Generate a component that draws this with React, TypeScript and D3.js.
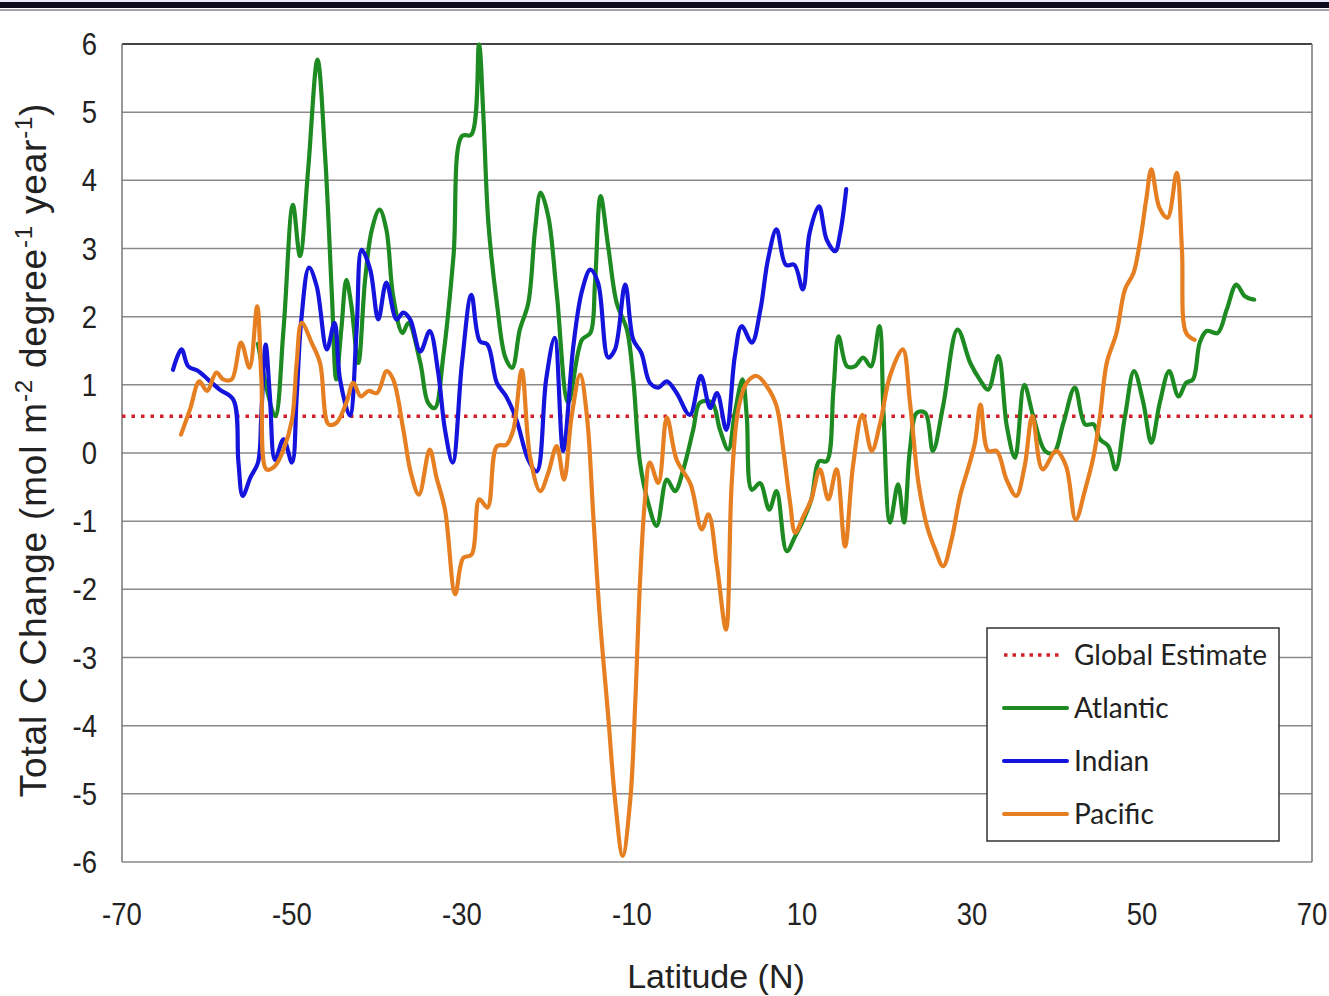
import React, { useEffect, useRef } from 'react';
import * as d3 from 'd3';

// values (latitude, total C change)
const atlanticLat = [-54, -52, -51, -49.9, -49.06, -48.1, -47, -46.1, -45.3, -44.8, -44.2, -43.6, -43, -42.2, -41.4, -40.6, -39.7, -38.9, -38.1, -37, -36.3, -34.9, -34, -33.2, -32.2, -31, -30, -28.9, -28, -27.5, -26.9, -25.9, -24.9, -24.1, -23.2, -22.2, -21.4, -20.75, -19.85, -18.86, -17.5, -15.9, -14.9, -14.35, -13.7, -12.8, -11.8, -10.6, -9.85, -9.06, -8.1, -7.1, -5.9, -4.94, -3.96, -2.8, -2, -0.6, 0.35, 1.33, 2.1, 3, 3.5, 4.1, 5.06, 6.15, 7, 8.2, 9.2, 10.16, 11.1, 12.04, 12.9, 13.7, 14.3, 15.3, 16.2, 17.2, 18.1, 19.1, 19.6, 20.35, 21.3, 22, 22.7, 23.5, 24.5, 25.4, 26.6, 28.3, 29.8, 30.9, 31.9, 33.1, 34.1, 35.06, 36.15, 37.2, 38.6, 39.6, 40.75, 42.1, 43.3, 44.3, 45.06, 46.04, 46.9, 48, 49.06, 50.15, 51.1, 52.1, 53.2, 54.3, 55.2, 56, 56.8, 57.6, 58.9, 59.96, 61.1, 62.1, 63.2];
const atlanticVal = [1.6, 0.54, 1.81, 3.64, 2.89, 4.16, 5.77, 4.35, 2.3, 1.08, 1.81, 2.54, 2.15, 1.32, 2.54, 3.28, 3.57, 3.28, 2.3, 1.76, 1.91, 1.32, 0.74, 0.66, 1.42, 2.89, 4.65, 4.67, 5.99, 4.99, 3.38, 2.2, 1.4, 1.25, 1.81, 2.2, 3.28, 3.82, 3.47, 2.35, 0.74, 1.66, 1.76, 2.5, 3.77, 3.03, 2.2, 1.81, 1.08, -0.14, -0.73, -1.07, -0.39, -0.56, -0.24, 0.34, 0.74, 0.74, 0.34, 0.05, 0.59, 1.08, 0.54, -0.54, -0.44, -0.83, -0.56, -1.44, -1.22, -0.98, -0.68, -0.12, -0.12, 0.93, 1.71, 1.27, 1.27, 1.4, 1.27, 1.86, 0.54, -1.02, -0.46, -1.02, 0.05, 0.59, 0.59, 0.03, 0.69, 1.81, 1.32, 1.08, 0.93, 1.42, 0.39, -0.07, 1.0, 0.54, 0.03, 0.0, 0.44, 0.96, 0.42, 0.42, 0.2, 0.1, -0.24, 0.54, 1.2, 0.74, 0.15, 0.74, 1.2, 0.83, 1.03, 1.08, 1.62, 1.79, 1.76, 2.1, 2.47, 2.3, 2.25];

const indianLat = [-64, -63, -62.2, -61, -59.9, -58.5, -56.9, -56.3, -55.8, -54.9, -54, -53.6, -53.1, -52.6, -52, -51, -50, -49.45, -48.9, -48, -47.1, -45.9, -45, -44.35, -43.2, -42.4, -41.8, -40.8, -39.85, -38.9, -37.7, -36.9, -36.1, -34.9, -33.8, -32.8, -32, -31.1, -30, -28.9, -27.9, -27, -25.9, -24.8, -23.6, -22.2, -21.2, -20.1, -19.1, -18.1, -16.9, -15.9, -14.9, -14, -12.8, -12, -10.8, -9.85, -8.9, -7.9, -6.9, -5.9, -4.75, -3.2, -1.9, -0.8, 0, 1.1, 2.1, 2.9, 4.1, 5.1, 6, 7, 8.1, 9.1, 10.1, 10.9, 12, 12.9, 13.9, 14.5, 15.2];
const indianVal = [1.22, 1.52, 1.27, 1.2, 1.08, 0.93, 0.78, -0.14, -0.63, -0.36, -0.14, 0.59, 1.59, 0.83, -0.1, 0.2, -0.14, 0.83, 1.96, 2.72, 2.45, 1.52, 1.91, 1.08, 0.55, 1.81, 2.98, 2.69, 1.96, 2.5, 1.96, 2.06, 1.96, 1.49, 1.79, 1.18, 0.34, -0.14, 1.32, 2.32, 1.64, 1.59, 1.03, 0.83, 0.49, -0.1, -0.27, 1.08, 1.69, 0.03, 1.57, 2.37, 2.69, 2.5, 1.4, 1.52, 2.47, 1.66, 1.47, 1.03, 0.96, 1.05, 0.88, 0.56, 1.13, 0.66, 0.88, 0.34, 1.42, 1.86, 1.62, 2.1, 2.84, 3.28, 2.76, 2.76, 2.4, 3.23, 3.62, 3.13, 2.96, 3.23, 3.87];

const pacificLat = [-63.06, -62, -60.9, -60, -58.9, -58.1, -57.1, -56, -55, -54.1, -53.6, -53, -52, -51, -50, -49.45, -48.86, -47.7, -46.7, -45.7, -44.8, -43.6, -42.8, -41.9, -41, -40, -38.86, -38.1, -36.9, -36, -35.06, -33.8, -33, -32, -30.8, -29.85, -28.86, -27.96, -27, -25.9, -24.8, -23.96, -22.98, -22, -20.8, -19.85, -18.86, -18, -17.1, -16.1, -15.3, -14.55, -13.8, -12.8, -12, -11.1, -10.2, -9.6, -9.06, -8.47, -7.9, -6.9, -5.9, -4.75, -3.1, -1.8, -1, 0, 1.06, 1.73, 2.5, 3.5, 4.67, 5.85, 7, 7.8, 8.6, 9.2, 10.16, 11.1, 12.1, 13.1, 14.06, 15.06, 16, 17.1, 18.2, 19.2, 20.35, 21.85, 22.7, 23.7, 24.7, 25.65, 26.6, 27.6, 28.6, 29.6, 30.35, 31, 31.9, 32.9, 34.06, 35.2, 36.2, 37.1, 38.3, 39.9, 41.06, 42.2, 43.3, 44.3, 45.06, 45.85, 47, 48, 49, 49.8, 50.5, 51.1, 52.04, 53, 54.08, 54.7, 55.2, 56.2];
const pacificVal = [0.27, 0.64, 1.05, 0.91, 1.18, 1.08, 1.08, 1.62, 1.25, 2.15, 1.08, -0.24, -0.19, 0.05, 0.49, 1.32, 1.91, 1.62, 1.32, 0.42, 0.44, 0.74, 1.03, 0.83, 0.91, 0.88, 1.2, 1.08, 0.34, -0.3, -0.61, 0.05, -0.36, -0.83, -2.07, -1.54, -1.49, -0.68, -0.8, 0.1, 0.12, 0.34, 1.22, -0.05, -0.56, -0.29, 0.1, -0.39, 0.54, 1.15, 0.54, -0.93, -2.39, -3.86, -5.08, -5.91, -5.08, -3.61, -1.9, -0.68, -0.14, -0.44, 0.52, -0.1, -0.46, -1.12, -0.9, -1.66, -2.59, -0.44, 0.64, 1.03, 1.13, 0.98, 0.69, 0.05, -0.73, -1.17, -0.93, -0.68, -0.24, -0.68, -0.24, -1.37, -0.19, 0.56, 0.03, 0.44, 1.13, 1.52, 0.74, -0.44, -1.07, -1.41, -1.66, -1.27, -0.63, -0.2, 0.15, 0.71, 0.03, 0.03, -0.39, -0.63, -0.19, 0.54, -0.24, 0.03, -0.19, -0.98, -0.54, -0.05, 0.54, 1.32, 1.76, 2.4, 2.64, 3.13, 3.72, 4.16, 3.6, 3.45, 4.11, 2.98, 1.76, 1.66];

const globalEstimate = 0.54;
const xTicks = [-70, -50, -30, -10, 10, 30, 50, 70];
const yTicks = [6, 5, 4, 3, 2, 1, 0, -1, -2, -3, -4, -5, -6];

const W = 1329;
const H = 996;
const margin = { top: 44, right: 17, bottom: 134, left: 122 };

const series = [
  { name: 'Atlantic', lat: atlanticLat, val: atlanticVal, color: '#1d8a22' },
  { name: 'Indian', lat: indianLat, val: indianVal, color: '#1414dc' },
  { name: 'Pacific', lat: pacificLat, val: pacificVal, color: '#e57f22' },
];

const App = () => {
  const svgRef = useRef(null);

  useEffect(() => {
    const svg = d3.select(svgRef.current);
    svg.selectAll('*').remove();

    const x = d3.scaleLinear().domain([-70, 70]).range([margin.left, W - margin.right]);
    const y = d3.scaleLinear().domain([-6, 6]).range([H - margin.bottom, margin.top]);

    // banner strip at the very top
    svg.append('rect').attr('x', 0).attr('y', 0).attr('width', W).attr('height', 2).attr('fill', '#e9e9f7');
    svg.append('rect').attr('x', 0).attr('y', 2).attr('width', W).attr('height', 6).attr('fill', '#0b0b1e');
    svg.append('rect').attr('x', 0).attr('y', 9).attr('width', W).attr('height', 2).attr('fill', '#a0a0a8');

    // gridlines
    svg.append('g')
      .selectAll('line')
      .data(yTicks)
      .enter().append('line')
      .attr('x1', x(-70)).attr('x2', x(70))
      .attr('y1', d => y(d)).attr('y2', d => y(d))
      .attr('stroke', d => (d === 6 ? '#444' : '#8a8a8a'))
      .attr('stroke-width', d => (d === 6 ? 2 : 1.5));

    // frame
    svg.append('line').attr('x1', x(-70)).attr('x2', x(-70)).attr('y1', y(6)).attr('y2', y(-6))
      .attr('stroke', '#777').attr('stroke-width', 1.5);
    svg.append('line').attr('x1', x(70)).attr('x2', x(70)).attr('y1', y(6)).attr('y2', y(-6))
      .attr('stroke', '#777').attr('stroke-width', 1.5);

    // tick labels (condensed look)
    svg.append('g')
      .selectAll('text')
      .data(yTicks)
      .enter().append('text')
      .attr('transform', d => `translate(97,${y(d) + 11}) scale(0.86,1)`)
      .attr('text-anchor', 'end')
      .style('font-family', '"Liberation Sans", Arial, sans-serif')
      .style('font-size', '32px')
      .attr('fill', '#222')
      .text(d => d);

    svg.append('g')
      .selectAll('text')
      .data(xTicks)
      .enter().append('text')
      .attr('transform', d => `translate(${x(d)},925) scale(0.86,1)`)
      .attr('text-anchor', 'middle')
      .style('font-family', '"Liberation Sans", Arial, sans-serif')
      .style('font-size', '32px')
      .attr('fill', '#222')
      .text(d => d);

    // global estimate dotted line
    svg.append('line')
      .attr('x1', x(-70)).attr('x2', x(70))
      .attr('y1', y(globalEstimate)).attr('y2', y(globalEstimate))
      .attr('stroke', '#d2232c')
      .attr('stroke-width', 3.5)
      .attr('stroke-dasharray', '3.5 6');

    const line = d3.line()
      .x(d => x(d[0]))
      .y(d => y(d[1]))
      .curve(d3.curveCatmullRom.alpha(0.5));

    series.forEach(s => {
      const pts = s.lat.map((l, i) => [l, s.val[i]]);
      svg.append('path')
        .datum(pts)
        .attr('d', line)
        .attr('fill', 'none')
        .attr('stroke', s.color)
        .attr('stroke-width', 4.2)
        .attr('stroke-linejoin', 'round')
        .attr('stroke-linecap', 'round');
    });

    // axis titles
    svg.append('text')
      .attr('x', x(0) - 1)
      .attr('y', 988)
      .attr('text-anchor', 'middle')
      .style('font-family', '"Liberation Sans", Arial, sans-serif')
      .style('font-size', '34px')
      .attr('fill', '#222')
      .text('Latitude (N)');

    const yt = svg.append('text')
      .attr('transform', 'translate(46,450) rotate(-90)')
      .attr('text-anchor', 'middle')
      .style('font-family', '"Liberation Sans", Arial, sans-serif')
      .style('font-size', '37px')
      .style('letter-spacing', '0.8px')
      .attr('fill', '#222');
    yt.append('tspan').text('Total C Change (mol m');
    yt.append('tspan').attr('dy', -14).style('font-size', '24px').text('-2');
    yt.append('tspan').attr('dy', 14).text(' degree');
    yt.append('tspan').attr('dy', -14).style('font-size', '24px').text('-1');
    yt.append('tspan').attr('dy', 14).text(' year');
    yt.append('tspan').attr('dy', -14).style('font-size', '24px').text('-1');
    yt.append('tspan').attr('dy', 14).text(')');

    // legend
    const legend = svg.append('g').attr('transform', 'translate(987,628)');
    legend.append('rect')
      .attr('width', 292).attr('height', 213)
      .attr('fill', '#fff').attr('stroke', '#333').attr('stroke-width', 1.5);

    const items = [
      { name: 'Global Estimate', color: '#d2232c', dotted: true },
      ...series.map(s => ({ name: s.name, color: s.color, dotted: false })),
    ];
    items.forEach((it, i) => {
      const cy = 27 + i * 53;
      legend.append('line')
        .attr('x1', 17).attr('x2', it.dotted ? 75 : 80)
        .attr('y1', cy).attr('y2', cy)
        .attr('stroke', it.color)
        .attr('stroke-width', it.dotted ? 3.5 : 4)
        .attr('stroke-dasharray', it.dotted ? '3.5 5' : null)
        .attr('stroke-linecap', it.dotted ? 'butt' : 'round');
      legend.append('text')
        .attr('x', 87).attr('y', cy + 10)
        .style('font-family', 'Lato, "Open Sans", sans-serif')
        .style('font-size', '28px')
        .attr('fill', '#222')
        .text(it.name);
    });
  }, []);

  return (
    <div style={{ position: 'absolute', left: 0, top: 0, width: W, height: H, background: '#fff' }}>
      <svg ref={svgRef} width={W} height={H} />
    </div>
  );
};

export default App;
